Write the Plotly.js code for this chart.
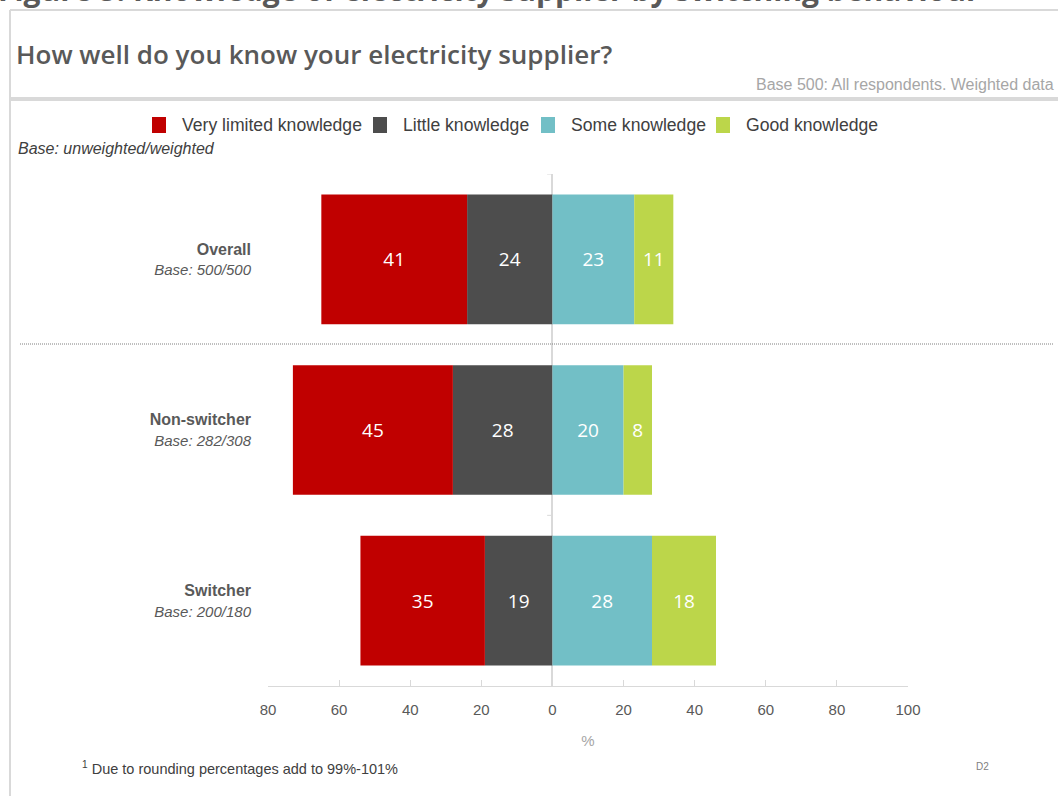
<!DOCTYPE html>
<html>
<head>
<meta charset="utf-8">
<script src="https://cdn.plot.ly/plotly-3.0.1.min.js"></script>
<style>html,body{margin:0;padding:0;background:#fff;}#chart{width:1058px;height:796px;}</style>
</head>
<body>
<div id="chart"></div>
<script>
// ---- data ----
var categories = ["Overall", "Non-switcher", "Switcher"];
var bases = ["Base: 500/500", "Base: 282/308", "Base: 200/180"];
var veryLimited = [41, 45, 35];
var little = [24, 28, 19];
var some = [23, 20, 28];
var good = [11, 8, 18];
var seriesNames = ["Very limited knowledge", "Little knowledge", "Some knowledge", "Good knowledge"];
var tickValues = [-80, -60, -40, -20, 0, 20, 40, 60, 80, 100];
var tickLabels = ["80", "60", "40", "20", "0", "20", "40", "60", "80", "100"];

var seriesColors = ["#C00000", "#4D4D4D", "#72BFC6", "#BCD64A"];

function neg(a) { return a.map(function (v) { return -v; }); }
function mk(name, vals, shown, color) {
  return {
    type: "bar", orientation: "h", name: name,
    y: categories, x: vals,
    text: shown.map(String), textposition: "inside", insidetextanchor: "middle",
    textfont: {family: "Open Sans, Arial", size: 19, color: "#ffffff"},
    marker: {color: color, line: {width: 0}},
    hoverinfo: "skip", showlegend: false
  };
}
var traces = [
  mk(seriesNames[1], neg(little), little, seriesColors[1]),
  mk(seriesNames[0], neg(veryLimited), veryLimited, seriesColors[0]),
  mk(seriesNames[2], some, some, seriesColors[2]),
  mk(seriesNames[3], good, good, seriesColors[3])
];

var tickText = categories.map(function (c, i) {
  return "<b>" + c + "</b><br><span style='font-size:15px'><i>" + bases[i] + "</i></span>";
});

var L = 268, T = 174, W = 640, H = 512;
function px(p) { return (p - L) / W; }
function py(p) { return (T + H - p) / H; }

var gray = "#d9d9d9";
var shapes = [
  {type: "line", xref: "paper", yref: "paper", x0: px(10), x1: px(10), y0: py(10), y1: py(800), line: {color: gray, width: 2}},
  {type: "line", xref: "paper", yref: "paper", x0: px(10), x1: px(1060), y0: py(10), y1: py(10), line: {color: gray, width: 2}},
  {type: "line", xref: "paper", yref: "paper", x0: px(10), x1: px(1060), y0: py(99), y1: py(99), line: {color: gray, width: 4}},
  {type: "line", xref: "paper", yref: "paper", x0: px(20), x1: px(1053), y0: py(344), y1: py(344), line: {color: "#7f7f7f", width: 1, dash: "1px,1px"}},
  {type: "line", xref: "x", yref: "y", x0: -1.5, x1: 0, y0: -0.5, y1: -0.5, line: {color: gray, width: 1}},
  {type: "line", xref: "x", yref: "y", x0: -1.5, x1: 0, y0: 1.5, y1: 1.5, line: {color: gray, width: 1}}
];
var annotations = [
  {xref: "paper", yref: "paper", x: px(-4), y: py(12), xanchor: "left", yanchor: "bottom", showarrow: false,
    text: "<b>Figure 5: Knowledge of electricity supplier by switching behaviour</b>",
    font: {family: "Open Sans, Arial", size: 30, color: "#595959"}},
  {xref: "paper", yref: "paper", x: px(14), y: py(54), xanchor: "left", yanchor: "middle", showarrow: false,
    text: "How well do you know your electricity supplier?",
    font: {family: "Open Sans, Arial", size: 26, color: "#595959", weight: 600}},
  {xref: "paper", yref: "paper", x: px(1056), y: py(84), xanchor: "right", yanchor: "middle", showarrow: false,
    text: "Base 500: All respondents. Weighted data",
    font: {family: "Arial, Liberation Sans", size: 16, color: "#a6a6a6"}},
  {xref: "paper", yref: "paper", x: px(16), y: py(148), xanchor: "left", yanchor: "middle", showarrow: false,
    text: "<i>Base: unweighted/weighted</i>",
    font: {family: "Arial, Liberation Sans", size: 16, color: "#404040"}},
  {xref: "paper", yref: "paper", x: px(80), y: py(768), xanchor: "left", yanchor: "middle", showarrow: false,
    text: "<sup>1</sup> Due to rounding percentages add to 99%-101%",
    font: {family: "Arial, Liberation Sans", size: 14.5, color: "#404040"}},
  {xref: "paper", yref: "paper", x: px(974), y: py(766), xanchor: "left", yanchor: "middle", showarrow: false,
    text: "D2",
    font: {family: "Arial, Liberation Sans", size: 10, color: "#808080"}}
];
// custom legend (layout positions only; names and colours from the series arrays)
var legendSquareX = [152, 373, 541, 716];
seriesNames.forEach(function (n, i) {
  var x0 = legendSquareX[i];
  shapes.push({type: "rect", xref: "paper", yref: "paper", x0: px(x0), x1: px(x0 + 14),
    y0: py(133), y1: py(117), fillcolor: seriesColors[i], line: {width: 0}});
  annotations.push({xref: "paper", yref: "paper", x: px(x0 + 28), y: py(125), xanchor: "left", yanchor: "middle",
    showarrow: false, text: n, font: {family: "Arial, Liberation Sans", size: 17.6, color: "#404040"}});
});

var layout = {
  width: 1058, height: 796,
  margin: {l: L, r: 1058 - L - W, t: T, b: 796 - T - H, pad: 0},
  paper_bgcolor: "#ffffff", plot_bgcolor: "#ffffff",
  barmode: "relative", bargap: 0.24,
  font: {family: "Arial, Liberation Sans", color: "#595959"},
  showlegend: false,
  xaxis: {
    range: [-80, 100], tickvals: tickValues, ticktext: tickLabels,
    ticks: "inside", ticklen: 6, tickcolor: gray, tickwidth: 1,
    showline: true, linecolor: gray, linewidth: 1,
    showgrid: false, zeroline: true, zerolinecolor: gray, zerolinewidth: 2,
    tickfont: {size: 15, color: "#595959"}, ticklabelstandoff: 10,
    title: {text: "%", font: {size: 15, color: "#a6a6a6"}, standoff: 18},
    fixedrange: true, layer: "above traces"
  },
  yaxis: {
    type: "category", categoryarray: categories, range: [2.5, -0.5],
    tickvals: categories, ticktext: tickText,
    ticks: "", showline: false, showgrid: false, zeroline: false,
    tickfont: {size: 16, color: "#595959"}, ticklabelstandoff: 16, fixedrange: true
  },
  shapes: shapes,
  annotations: annotations
};

Plotly.newPlot("chart", traces, layout, {staticPlot: true, displayModeBar: false});
</script>
</body>
</html>
